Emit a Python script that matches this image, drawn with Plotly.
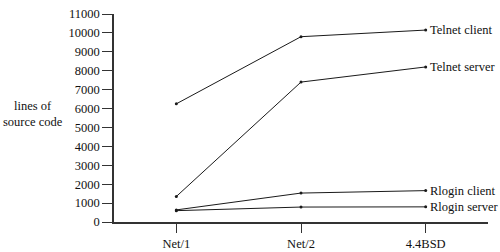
import plotly.graph_objects as go

releases = ["Net/1", "Net/2", "4.4BSD"]
telnet_client = [6250, 9800, 10150]
telnet_server = [1350, 7400, 8200]
rlogin_client = [640, 1530, 1660]
rlogin_server = [600, 790, 800]
series_names = ["Telnet client", "Telnet server", "Rlogin client", "Rlogin server"]
series_values = [telnet_client, telnet_server, rlogin_client, rlogin_server]
y_ticks = list(range(0, 11001, 1000))
y_ticktext = [str(v) for v in y_ticks]

FONT = "Liberation Serif"
fig = go.Figure()
for name, vals in zip(series_names, series_values):
    fig.add_trace(go.Scatter(
        x=releases, y=vals, mode="lines+markers", name=name,
        line=dict(color="#1a1a1a", width=1),
        marker=dict(color="#1a1a1a", size=3),
        cliponaxis=False, showlegend=False,
    ))
    fig.add_annotation(x=releases[-1], y=vals[-1], text=name, xanchor="left",
                       yanchor="middle", xshift=2, showarrow=False,
                       font=dict(family=FONT, size=12.5, color="#111"))

fig.add_annotation(xref="paper", yref="paper", x=-0.217, y=0.52,
                   text="lines of<br>source code", showarrow=False,
                   xanchor="center", yanchor="middle", align="center",
                   font=dict(family=FONT, size=12.5, color="#111"))

fig.update_layout(
    width=500, height=252,
    margin=dict(l=114, r=12, t=14, b=30),
    paper_bgcolor="white", plot_bgcolor="white",
    font=dict(family=FONT, size=12.5, color="#111"),
    xaxis=dict(type="category", range=[-0.5, 2.5], showline=True,
               linecolor="#333", linewidth=1.5, ticks="outside", ticklen=9,
               tickcolor="#333", showgrid=False, zeroline=False,
               automargin=False,
               tickfont=dict(family=FONT, size=12.5)),
    yaxis=dict(range=[0, 11000], tickvals=y_ticks, ticktext=y_ticktext,
               showline=True, linecolor="#333", linewidth=1.5,
               ticks="outside", ticklen=10, tickcolor="#333",
               showgrid=False, zeroline=False, automargin=False,
               tickfont=dict(family=FONT, size=12.5)),
)
fig.write_html("out.html")
